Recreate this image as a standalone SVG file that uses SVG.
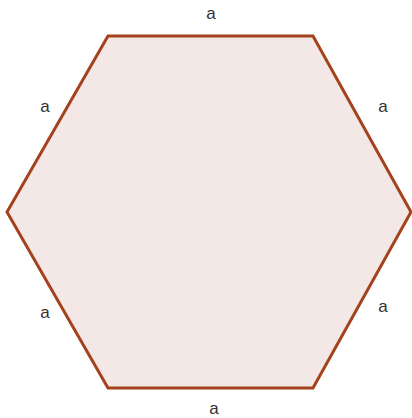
<svg xmlns="http://www.w3.org/2000/svg" width="412" height="418" viewBox="0 0 412 418">
<style>
.lbl{font-family:"Liberation Sans",Arial,sans-serif;font-size:17px;fill:#333;text-anchor:middle}
</style>
<rect width="412" height="418" fill="#fff"/>
<g id="hexagon">
<polygon points="108,36 313,36 411,212 313,388 108,388 7,212" fill="#f3e8e6" stroke="#a3421c" stroke-width="3" stroke-linejoin="miter"/>
</g>
<g id="labels">
<text class="lbl" x="211" y="19">a</text>
<text class="lbl" x="45" y="112">a</text>
<text class="lbl" x="383" y="112">a</text>
<text class="lbl" x="45" y="318">a</text>
<text class="lbl" x="383" y="312">a</text>
<text class="lbl" x="214" y="414">a</text>
</g>
</svg>
